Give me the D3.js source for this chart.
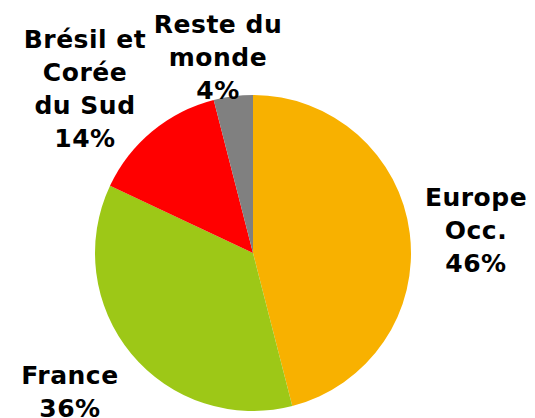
<!DOCTYPE html>
<html>
<head>
  <meta charset="utf-8">
  <script src="https://d3js.org/d3.v7.min.js"></script>
  <style>
  body { margin:0; background:#fff; }
  .lbl { font-family: "DejaVu Sans", Verdana, sans-serif; font-weight: bold; font-size: 25px; letter-spacing: 0.5px; fill: #000; }
</style>
</head>
<body>
<script>
  var categories = ["Europe Occ.", "France", "Brésil et Corée du Sud", "Reste du monde"];
  var values = [46, 36, 14, 4];
  var labelLines = [["Europe", "Occ."], ["France"], ["Brésil et", "Corée", "du Sud"], ["Reste du", "monde"]];
  var colors = ["#F8B100", "#9DC817", "#FF0000", "#808080"];

  // label anchor: centre x, first baseline y
  var labelPos = [[476, 206], [70, 384], [85, 48], [218, 33]];
  var lineH = 33;

  var width = 535, height = 418, cx = 253, cy = 253, radius = 158;

  var svg = d3.select("body").append("svg")
    .attr("width", width)
    .attr("height", height);

  var data = categories.map((c, i) => ({ name: c, value: values[i], lines: labelLines[i], color: colors[i], pos: labelPos[i] }));

  var pie = d3.pie().sort(null).value(d => d.value);
  var arc = d3.arc().innerRadius(0).outerRadius(radius);

  svg.append("g")
    .attr("transform", "translate(" + cx + "," + cy + ")")
    .selectAll("path")
    .data(pie(data))
    .enter().append("path")
    .attr("d", arc)
    .attr("fill", d => d.data.color);

  var total = d3.sum(values);
  var lbl = svg.selectAll(".lbl")
    .data(data)
    .enter().append("text")
    .attr("class", "lbl")
    .attr("text-anchor", "middle");

  lbl.each(function(d) {
    var t = d3.select(this);
    var lines = d.lines.concat([Math.round(d.value / total * 100) + "%"]);
    lines.forEach((s, i) => {
      t.append("tspan")
        .attr("x", d.pos[0])
        .attr("y", d.pos[1] + i * lineH)
        .text(s);
    });
  });
</script>
</body>
</html>
